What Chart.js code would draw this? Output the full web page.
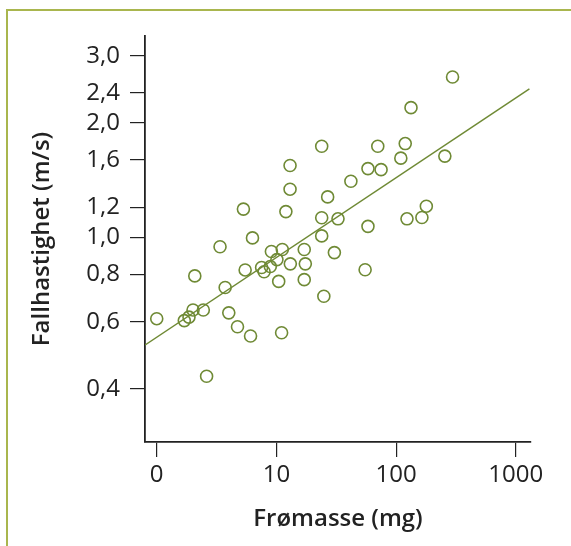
<!DOCTYPE html>
<html>
<head>
<meta charset="utf-8">
<script src="https://cdn.jsdelivr.net/npm/chart.js@4"></script>
<style>
    html, body { margin: 0; padding: 0; background: #fff; overflow: hidden; }
    #frame {
        position: absolute;
        left: 6px;
        top: 9px;
        width: 700px;
        height: 700px;
        border: 2px solid #a9b64e;
        box-sizing: border-box;
    }
    #seedChart { position: absolute; left: 0; top: 0; }
</style>
</head>
<body>
<div id="frame"></div>
<canvas id="seedChart" width="571" height="546"></canvas>
<script>
// seed mass (mg) and falling speed (m/s)
const seedMass = [1.0, 1.70, 1.86, 2.01, 2.45, 2.08, 2.61, 3.38, 3.73, 4.00,
    4.73, 5.30, 5.48, 6.08, 6.31, 7.52, 7.89, 8.89, 9.08, 10.1,
    10.45, 11.05, 11.2, 12.0, 13.0, 13.0, 13.07, 17.08, 17.44, 17.08,
    23.9, 23.9, 23.9, 24.9, 26.8, 30.5, 32.7, 41.9, 55.1, 58.2,
    58.2, 70.3, 74.9, 109.5, 119.2, 123.3, 133.2, 164.3, 178.9, 255.4, 296.2];
const fallSpeed = [0.612, 0.605, 0.618, 0.645, 0.645, 0.793, 0.432, 0.946, 0.739, 0.634,
    0.583, 1.188, 0.822, 0.551, 0.998, 0.834, 0.813, 0.839, 0.919, 0.875,
    0.767, 0.562, 0.930, 1.17, 1.547, 1.34, 0.853, 0.930, 0.853, 0.775,
    1.738, 1.127, 1.010, 0.701, 1.279, 0.913, 1.12, 1.406, 0.823, 1.518,
    1.07, 1.738, 1.508, 1.617, 1.766, 1.12, 2.195, 1.129, 1.209, 1.637, 2.642];

// regression line end points
const fitMass = [0.8, 1300];
const fitSpeed = [0.522, 2.459];

const xTickValues = [1, 10, 100, 1000];
const xTickLabels = ['0', '10', '100', '1000'];
const yTickValues = [0.4, 0.6, 0.8, 1.0, 1.2, 1.6, 2.0, 2.4, 3.0];
const yTickLabels = ['0,4', '0,6', '0,8', '1,0', '1,2', '1,6', '2,0', '2,4', '3,0'];

const green = '#6f8a35';
const axisColor = '#222';
const fontFamily = '"Open Sans", "Noto Sans", sans-serif';

const points = seedMass.map((m, i) => ({ x: m, y: fallSpeed[i] }));
const fitLine = fitMass.map((m, i) => ({ x: m, y: fitSpeed[i] }));

// Create the chart
const seedChart = new Chart(document.getElementById('seedChart').getContext('2d'), {
    type: 'scatter',
    data: {
        datasets: [
            {
                type: 'line',
                data: fitLine,
                borderColor: green,
                borderWidth: 1.5,
                pointRadius: 0,
                fill: false
            },
            {
                data: points,
                pointStyle: 'circle',
                pointRadius: 6,
                borderColor: green,
                borderWidth: 1.6,
                backgroundColor: 'rgba(0,0,0,0)'
            }
        ]
    },
    options: {
        responsive: false,
        devicePixelRatio: 1,
        animation: false,
        layout: {
            padding: { left: 0, top: 36, right: 40, bottom: 0 }
        },
        plugins: {
            legend: { display: false },
            tooltip: { enabled: false },
            title: { display: false }
        },
        scales: {
            x: {
                type: 'logarithmic',
                min: 0.798,
                max: 1340,
                afterBuildTicks: scale => {
                    scale.ticks = xTickValues.map(v => ({ value: v }));
                },
                afterFit: scale => {
                    scale.height = 104;
                },
                grid: {
                    drawOnChartArea: false,
                    drawTicks: true,
                    tickLength: 15,
                    color: axisColor,
                    lineWidth: 1.2
                },
                border: { display: true, color: axisColor, width: 1.8 },
                ticks: {
                    autoSkip: false,
                    maxRotation: 0,
                    padding: 4,
                    color: axisColor,
                    font: { family: fontFamily, size: 24, lineHeight: 1.2 },
                    callback: (value, index) => xTickLabels[index]
                },
                title: {
                    display: true,
                    text: 'Frømasse (mg)',
                    color: axisColor,
                    padding: { top: 0, bottom: 12 },
                    font: { family: fontFamily, size: 24, weight: '600', lineHeight: 1.2 }
                }
            },
            y: {
                type: 'logarithmic',
                min: 0.2902,
                max: 3.386,
                afterBuildTicks: scale => {
                    scale.ticks = yTickValues.map(v => ({ value: v }));
                },
                afterFit: scale => {
                    scale.width = 145;
                },
                grid: {
                    drawOnChartArea: false,
                    drawTicks: true,
                    tickLength: 15,
                    color: axisColor,
                    lineWidth: 1.2
                },
                border: { display: true, color: axisColor, width: 1.8 },
                ticks: {
                    autoSkip: false,
                    padding: 10,
                    color: axisColor,
                    font: { family: fontFamily, size: 24, lineHeight: 1.2 },
                    callback: (value, index) => yTickLabels[index]
                },
                title: {
                    display: true,
                    text: 'Fallhastighet (m/s)',
                    color: axisColor,
                    padding: { top: 28, bottom: 0 },
                    font: { family: fontFamily, size: 24, weight: '600', lineHeight: 1.2 }
                }
            }
        }
    }
});
</script>
</body>
</html>
